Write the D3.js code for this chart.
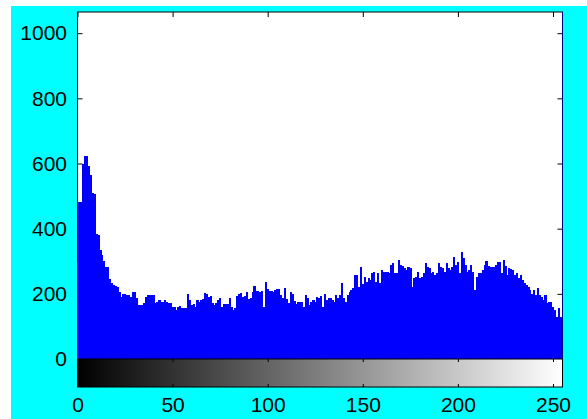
<!DOCTYPE html>
<html>
<head>
<meta charset="utf-8">
<script src="https://cdn.jsdelivr.net/npm/d3@7"></script>
<style>
  html, body { margin: 0; padding: 0; background: #fff; }
  svg { display: block; }
</style>
</head>
<body>
<div id="chart"></div>
<script>
// grey level counts (bins 0..255)
const counts0 = [
  294, 482, 482, 600, 622, 622, 592, 565, 510, 505, 385, 380, 334, 320, 300, 283,
  283, 245, 232, 228, 225, 222, 206, 191, 201, 201, 196, 196, 191, 206, 206, 186,
  166, 166, 166, 171, 191, 196, 196, 196, 196, 171, 176, 181, 176, 176, 181, 176,
  171, 171, 160, 160, 150, 160, 162, 155, 155, 155, 198, 181, 166, 168, 160, 181
];
const counts1 = [
  176, 181, 184, 203, 198, 189, 192, 172, 166, 172, 180, 188, 160, 170, 170, 168,
  188, 160, 150, 155, 192, 200, 203, 190, 192, 205, 183, 186, 205, 225, 210, 210,
  205, 210, 160, 235, 215, 210, 210, 206, 212, 214, 214, 195, 186, 217, 183, 172,
  206, 200, 178, 168, 176, 176, 176, 160, 196, 186, 166, 176, 181, 176, 190, 188
];
const counts2 = [
  192, 160, 200, 181, 188, 188, 182, 176, 196, 188, 196, 232, 186, 176, 196, 206,
  212, 217, 258, 258, 222, 281, 230, 252, 237, 250, 242, 263, 268, 237, 263, 232,
  273, 268, 268, 268, 263, 288, 294, 263, 263, 304, 288, 285, 278, 273, 283, 278,
  222, 248, 251, 268, 248, 252, 263, 294, 283, 278, 263, 268, 258, 263, 294, 283
];
const counts3 = [
  278, 268, 294, 278, 273, 283, 314, 288, 298, 263, 329, 309, 288, 268, 273, 288,
  268, 212, 251, 263, 265, 273, 288, 300, 285, 283, 283, 283, 290, 298, 298, 263,
  304, 285, 258, 278, 275, 273, 258, 263, 248, 258, 242, 234, 227, 222, 212, 201,
  212, 196, 217, 196, 191, 181, 196, 171, 176, 176, 160, 150, 130, 155, 130, 1400
];
const counts = counts0.concat(counts1, counts2, counts3);

const yTicks = [0, 200, 400, 600, 800, 1000];
const xTicks = [0, 50, 100, 150, 200, 250];
const yMax = 1065;

const W = 587, H = 419;
const plot = { left: 77.5, right: 562.5, top: 12, bottom: 359 };
const bar = { top: 359, bottom: 387 };
const font = "'Liberation Sans', Arial, sans-serif";

const svg = d3.select("#chart").append("svg")
  .attr("width", W)
  .attr("height", H);

// figure background
svg.append("rect").attr("width", W).attr("height", H).attr("fill", "#fff");
svg.append("rect")
  .attr("x", 11).attr("y", 6)
  .attr("width", W - 11).attr("height", H - 6)
  .attr("fill", "#00ffff");

const x = d3.scaleLinear().domain([0, 255]).range([plot.left, plot.right]);
const y = d3.scaleLinear().domain([0, yMax]).range([plot.bottom, plot.top]);

const defs = svg.append("defs");
defs.append("clipPath").attr("id", "plotClip")
  .append("rect")
  .attr("x", plot.left - 1).attr("y", plot.top)
  .attr("width", plot.right - plot.left + 1)
  .attr("height", plot.bottom - plot.top);

const grey = defs.append("linearGradient")
  .attr("id", "greyRamp")
  .attr("gradientUnits", "userSpaceOnUse")
  .attr("x1", x(0)).attr("x2", x(255)).attr("y1", 0).attr("y2", 0);
grey.append("stop").attr("offset", "0%").attr("stop-color", "#000");
grey.append("stop").attr("offset", "100%").attr("stop-color", "#fff");

// histogram axes box
svg.append("rect")
  .attr("x", plot.left).attr("y", plot.top)
  .attr("width", plot.right - plot.left)
  .attr("height", plot.bottom - plot.top)
  .attr("fill", "#fff")
  .attr("stroke", "#000")
  .attr("stroke-width", 1);

// inward ticks: left, right, top
const yAx = d3.axisLeft(y)
  .tickValues(yTicks)
  .tickFormat(d3.format("d"))
  .tickSizeInner(-5)
  .tickSizeOuter(0)
  .tickPadding(10.5);
svg.append("g")
  .attr("transform", `translate(${plot.left},0)`)
  .call(yAx)
  .call((g) => g.select(".domain").remove())
  .call((g) => g.selectAll("line").attr("stroke", "#000"))
  .call((g) => g.selectAll("text")
    .attr("fill", "#000")
    .style("font", `21px ${font}`));

svg.append("g")
  .attr("transform", `translate(${plot.right},0)`)
  .call(d3.axisRight(y).tickValues(yTicks).tickSizeInner(-5).tickSizeOuter(0).tickFormat(""))
  .call((g) => g.select(".domain").remove())
  .call((g) => g.selectAll("line").attr("stroke", "#000"));

svg.append("g")
  .attr("transform", `translate(0,${plot.top})`)
  .call(d3.axisTop(x).tickValues(xTicks).tickSizeInner(-5).tickSizeOuter(0).tickFormat(""))
  .call((g) => g.select(".domain").remove())
  .call((g) => g.selectAll("line").attr("stroke", "#000"));

// histogram bars
const bw = x(1) - x(0);
svg.append("g")
  .attr("clip-path", "url(#plotClip)")
  .selectAll("rect")
  .data(counts)
  .enter()
  .append("rect")
  .attr("x", (d, i) => x(i) - bw / 2)
  .attr("width", bw + 0.3)
  .attr("y", (d) => y(Math.min(d, yMax)))
  .attr("height", (d) => plot.bottom - y(Math.min(d, yMax)))
  .attr("fill", "#0000ff")
  .attr("shape-rendering", "crispEdges");

// grey colour bar under the histogram
svg.append("rect")
  .attr("x", plot.left).attr("y", bar.top)
  .attr("width", plot.right - plot.left)
  .attr("height", bar.bottom - bar.top)
  .attr("fill", "url(#greyRamp)")
  .attr("stroke", "#000")
  .attr("stroke-width", 1);

svg.append("g")
  .attr("transform", `translate(0,${bar.top})`)
  .call(d3.axisTop(x).tickValues(xTicks.slice(1)).tickSizeInner(-3).tickSizeOuter(0).tickFormat(""))
  .call((g) => g.select(".domain").remove())
  .call((g) => g.selectAll("line").attr("stroke", "#000"));

svg.append("g")
  .attr("transform", `translate(0,${bar.bottom})`)
  .call(d3.axisBottom(x).tickValues(xTicks).tickSizeInner(-3).tickSizeOuter(0).tickPadding(10))
  .call((g) => g.select(".domain").remove())
  .call((g) => g.selectAll("line").attr("stroke", "#000"))
  .call((g) => g.selectAll("text")
    .attr("fill", "#000")
    .style("font", `21px ${font}`));
</script>
</body>
</html>
